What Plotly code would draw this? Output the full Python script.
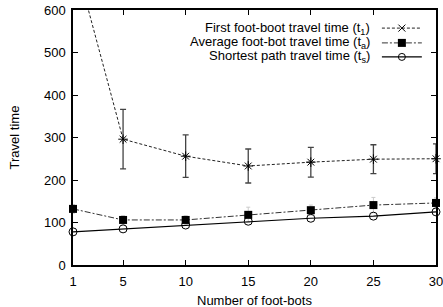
import plotly.graph_objects as go

foot_bots = [1, 5, 10, 15, 20, 25, 30]
first_time = [735, 296, 256, 233, 242, 249, 250]
first_err = [100, 70, 50, 40, 35, 34, 35]
avg_time = [132, 106, 106, 118, 129, 141, 146]
avg_err = [10, 10, 10, 18, 12, 18, 12]
short_time = [78, 85, 94, 103, 110, 115, 125]

x_ticks = [1, 5, 10, 15, 20, 25, 30]
y_ticks = [0, 100, 200, 300, 400, 500, 600]

legend_labels = [
    "First foot-boot travel time (t<sub>1</sub>)",
    "Average foot-bot travel time (t<sub>a</sub>)",
    "Shortest path travel time (t<sub>s</sub>)",
]

FONT = "Liberation Sans, Arial, sans-serif"

fig = go.Figure()

# First foot-bot: line clipped at plot edges
fig.add_trace(go.Scatter(
    x=foot_bots, y=first_time, mode="lines",
    line=dict(color="#222222", width=1, dash="3px,2px"),
    cliponaxis=True, showlegend=False, hoverinfo="skip"))
fig.add_trace(go.Scatter(
    x=foot_bots, y=first_time, mode="markers",
    marker=dict(symbol="asterisk-open", size=8, color="black", line=dict(width=1, color="black")),
    error_y=dict(type="data", array=first_err, color="#444444", thickness=1.3, width=3),
    cliponaxis=False, showlegend=False))

fig.add_trace(go.Scatter(
    x=foot_bots, y=avg_time, mode="lines+markers",
    line=dict(color="#333333", width=1, dash="6px,2px,2px,2px"),
    marker=dict(symbol="square", size=8, color="black"),
    error_y=dict(type="data", array=avg_err, color="#cccccc", thickness=1, width=2),
    cliponaxis=False, showlegend=False))

fig.add_trace(go.Scatter(
    x=foot_bots, y=short_time, mode="lines+markers",
    line=dict(color="black", width=1.2),
    marker=dict(symbol="circle-open", size=8, color="black", line=dict(width=1, color="black")),
    cliponaxis=False, showlegend=False))

# Manual legend (samples on the right of right-aligned text)
row_y = [0.929, 0.871, 0.816]
sample_styles = [
    (dict(color="#222222", width=1, dash="3px,2px"),
     dict(symbol="x-thin-open", size=7, color="black", line=dict(width=1, color="black"))),
    (dict(color="#333333", width=1, dash="6px,2px,2px,2px"),
     dict(symbol="square", size=8, color="black")),
    (dict(color="black", width=1.2),
     dict(symbol="circle-open", size=7, color="black", line=dict(width=1, color="black"))),
]
for yy, lab, (ln, mk) in zip(row_y, legend_labels, sample_styles):
    fig.add_trace(go.Scatter(
        x=[0.851, 0.961], y=[yy, yy], xaxis="x2", yaxis="y2", mode="lines",
        line=ln, showlegend=False, hoverinfo="skip"))
    fig.add_trace(go.Scatter(
        x=[0.906], y=[yy], xaxis="x2", yaxis="y2", mode="markers",
        marker=mk, showlegend=False, hoverinfo="skip"))
    fig.add_annotation(x=0.824, y=yy, xref="paper", yref="paper", text=lab,
                       showarrow=False, xanchor="right", yanchor="middle",
                       font=dict(family=FONT, size=13, color="black"))

fig.add_annotation(x=0.5, y=-0.1, xref="paper", yref="paper", text="Number of foot-bots",
                   showarrow=False, xanchor="center", yanchor="top",
                   font=dict(family=FONT, size=13, color="black"))
fig.add_annotation(x=-0.16, y=0.5, xref="paper", yref="paper", text="Travel time",
                   showarrow=False, xanchor="center", yanchor="middle", textangle=-90,
                   font=dict(family=FONT, size=13, color="black"))

axis_common = dict(showgrid=False, zeroline=False, showline=True, linecolor="black",
                   linewidth=1.5, mirror="allticks", ticks="inside", ticklen=5,
                   tickcolor="black", tickwidth=1, automargin=False,
                   ticklabeloverflow="allow",
                   tickfont=dict(family=FONT, size=13, color="black"))

fig.update_layout(
    width=443, height=307,
    margin=dict(l=73, r=7, t=10, b=42),
    paper_bgcolor="white", plot_bgcolor="white",
    showlegend=False,
    xaxis=dict(range=[1, 30], tickvals=x_ticks, ticklabelstandoff=4, **axis_common),
    yaxis=dict(range=[0, 600], tickvals=y_ticks, ticklabelstandoff=3, **axis_common),
    xaxis2=dict(range=[0, 1], overlaying="x", visible=False, fixedrange=True),
    yaxis2=dict(range=[0, 1], overlaying="y", visible=False, fixedrange=True),
)

fig.write_html(
    "out.html",
    config={"displayModeBar": False},
    post_script="document.body.style.margin='0';document.documentElement.style.overflow='hidden';document.body.style.overflow='hidden';",
)
